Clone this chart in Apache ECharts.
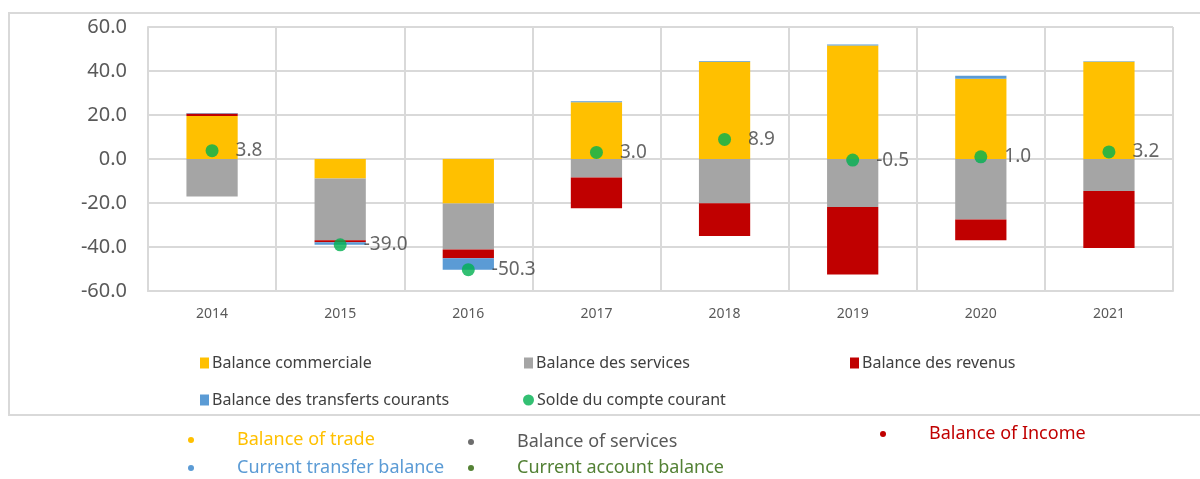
<!DOCTYPE html>
<html>
<head>
<meta charset="utf-8">
<script src="https://cdn.jsdelivr.net/npm/echarts@6/dist/echarts.min.js"></script>
<style>
  html, body { margin: 0; padding: 0; background: #fff; }
  #chart { width: 1200px; height: 479px; }
</style>
</head>
<body>
<div id="chart"></div>
<script>
// data
const years = ['2014', '2015', '2016', '2017', '2018', '2019', '2020', '2021'];
const trade = [19.5, -8.9, -20.2, 25.8, 44.2, 51.6, 36.5, 44.2];
const services = [-17.0, -28.0, -20.9, -8.4, -20.1, -21.8, -27.5, -14.6];
const revenue = [1.2, -0.9, -4.0, -14.0, -14.9, -30.7, -9.4, -25.9];
const transfers = [0.2, -1.2, -5.2, 0.4, 0.3, 0.5, 1.3, 0.2];
const currentAccount = [3.8, -39.0, -50.3, 3.0, 8.9, -0.5, 1.0, 3.2];

const names = ['Balance commerciale', 'Balance des services', 'Balance des revenus',
  'Balance des transferts courants', 'Solde du compte courant'];
const colors = ['#FFC000', '#A5A5A5', '#C00000', '#5B9BD5', '#00B050'];

const font = 'Noto Sans';
const myChart = echarts.init(document.getElementById('chart'));

const barSeries = [trade, services, revenue, transfers].map((d, i) => ({
  name: names[i],
  type: 'bar',
  stack: 'total',
  barWidth: '40%',
  itemStyle: { color: colors[i] },
  data: d
}));

function legendAt(i, left, top, icon) {
  return {
    data: [names[i]],
    left: left,
    top: top,
    icon: icon,
    itemWidth: icon === 'circle' ? 11 : 9,
    itemHeight: 11,
    itemGap: 4,
    textStyle: { fontFamily: font, fontSize: 16, color: '#404040', padding: [0, 0, 0, -2] }
  };
}

// notes under the chart box
const notes = [
  { text: 'Balance of trade', x: 191, y: 440, color: '#FFC000', dot: '#FFC000' },
  { text: 'Balance of services', x: 471, y: 442, color: '#595959', dot: '#6D6D6D' },
  { text: 'Balance of Income', x: 883, y: 434, color: '#C00000', dot: '#C00000' },
  { text: 'Current transfer balance', x: 191, y: 468, color: '#5B9BD5', dot: '#5B9BD5' },
  { text: 'Current account balance', x: 471, y: 468, color: '#538135', dot: '#548235' }
];
const graphics = [{
  type: 'rect',
  shape: { x: 9, y: 13, width: 1200, height: 402 },
  style: { fill: 'none', stroke: '#D9D9D9', lineWidth: 2 },
  silent: true
}];
notes.forEach(n => {
  graphics.push({
    type: 'circle',
    shape: { cx: n.x, cy: n.y, r: 3 },
    style: { fill: n.dot }
  });
  graphics.push({
    type: 'text',
    x: n.x + 46,
    y: n.y,
    style: { text: n.text, fill: n.color, fontFamily: font, fontSize: 18, verticalAlign: 'middle' }
  });
});

const option = {
  backgroundColor: '#fff',
  animation: false,
  grid: { left: 148, top: 27, width: 1025, height: 264 },
  legend: [
    legendAt(0, 195, 350, 'rect'),
    legendAt(1, 519, 350, 'rect'),
    legendAt(2, 845, 350, 'rect'),
    legendAt(3, 195, 387, 'rect'),
    legendAt(4, 518, 387, 'circle')
  ],
  xAxis: {
    type: 'category',
    data: years,
    axisTick: { show: false },
    axisLine: { onZero: false, lineStyle: { color: '#D9D9D9', width: 2 } },
    axisLabel: { fontFamily: font, fontSize: 14, color: '#595959', margin: 16 },
    splitLine: { show: true, lineStyle: { color: '#D9D9D9', width: 2 } }
  },
  yAxis: {
    type: 'value',
    min: -60,
    max: 60,
    interval: 20,
    axisLine: { show: true, lineStyle: { color: '#D9D9D9', width: 2 } },
    axisTick: { show: false },
    axisLabel: {
      fontFamily: font, fontSize: 20, color: '#595959', margin: 21,
      formatter: v => v.toFixed(1)
    },
    splitLine: { lineStyle: { color: '#D9D9D9', width: 2 } }
  },
  graphic: graphics,
  series: barSeries.concat([{
    name: names[4],
    type: 'scatter',
    symbol: 'circle',
    symbolSize: 13,
    z: 5,
    itemStyle: { color: colors[4] },
    label: {
      show: true,
      position: 'right',
      distance: 17,
      fontFamily: font,
      fontSize: 19,
      color: '#404040',
      formatter: p => p.value.toFixed(1)
    },
    data: currentAccount
  }])
};

myChart.setOption(option);
</script>
</body>
</html>
